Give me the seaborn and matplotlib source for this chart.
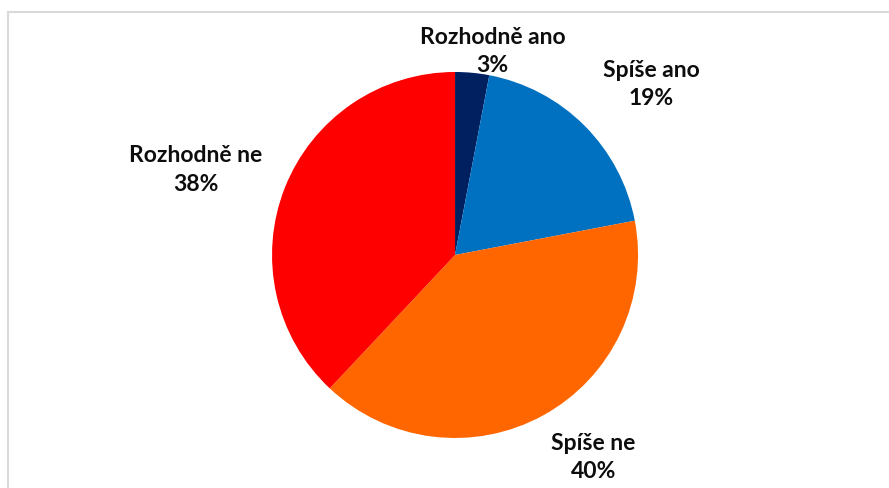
import numpy as np
import matplotlib
matplotlib.use("Agg")
import matplotlib.pyplot as plt
import matplotlib.patches as patches
import seaborn as sns

# Data
categories = ['Rozhodně ano', 'Spíše ano', 'Spíše ne', 'Rozhodně ne']
values = [3, 19, 40, 38]
colors = ['#002060', '#0070C0', '#FF6600', '#FF0000']

# label placement (distance from centre in radii, angle shift in degrees)
label_dist = [1.13, 1.42, 1.34, 1.49]
label_shift = [-5, -4, 5.5, 3.5]

sns.set_theme(style="white")
plt.rcParams['font.family'] = ['Lato', 'DejaVu Sans']

fig = plt.figure(figsize=(8.89, 4.88), dpi=100)
ax = fig.add_axes([0.306, 0.1025, 0.4117, 0.75])

wedges, _ = ax.pie(values, colors=colors, startangle=90, counterclock=False,
                   wedgeprops=dict(linewidth=0))
ax.set_xlim(-1, 1)
ax.set_ylim(-1, 1)
ax.set_aspect('auto')
ax.axis('off')

for w, cat, v, d, s in zip(wedges, categories, values, label_dist, label_shift):
    ang = np.deg2rad((w.theta1 + w.theta2) / 2 + s)
    ax.text(d * np.cos(ang), d * np.sin(ang), f"{cat}\n{v}%",
            ha='center', va='center', fontsize=16.5, fontweight='bold',
            color='#0d0d0d', linespacing=1.45)

# chart frame
frame = patches.Rectangle((7.5 / 889, -0.1), 1.1, 1 - 12.5 / 488 + 0.1,
                          transform=fig.transFigure, fill=False,
                          edgecolor='#d9d9d9', linewidth=1.5)
fig.patches.append(frame)

fig.savefig("out.png", dpi=100)
